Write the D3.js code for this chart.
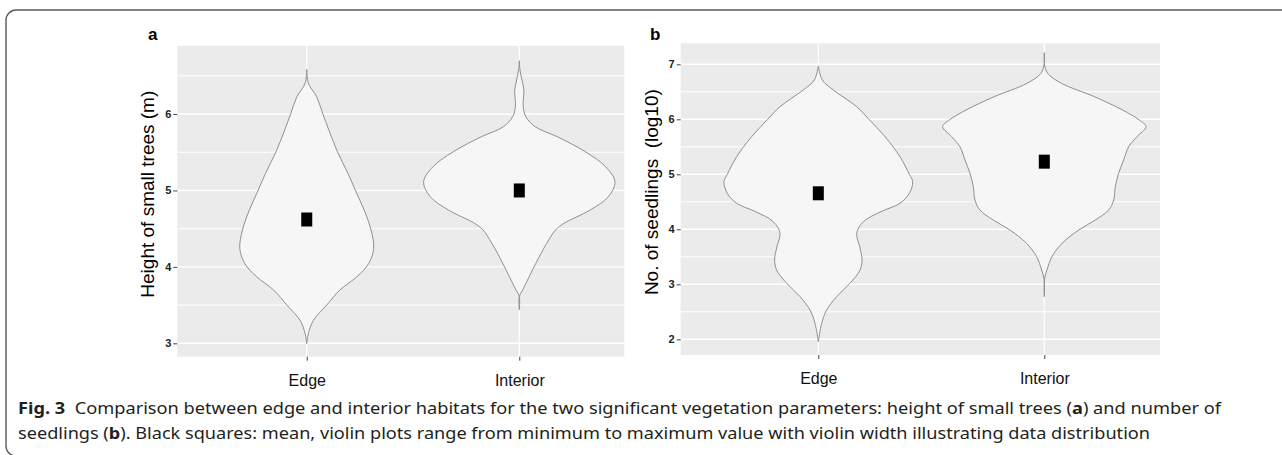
<!DOCTYPE html>
<html>
<head>
<meta charset="utf-8">
<script src="https://cdn.jsdelivr.net/npm/d3@7"></script>
<style>
  body { margin: 0; background: #fff; }
</style>
</head>
<body>
<script>
// values
var categories = ["Edge", "Interior"];

// panel a: height of small trees (m)
var heightTicks = [3, 4, 5, 6];
var heightMinor = [3.5, 4.5, 5.5, 6.5];
var heightMeans = [4.62, 5.0];
var heightEdgeY = [6.585, 6.402, 6.227, 6.009, 5.791, 5.507, 5.223, 5.005, 4.744, 4.482, 4.242, 4.045, 3.871, 3.696, 3.499, 3.30, 3.127, 2.996];
var heightEdgeDens = [0, 0.017, 0.103, 0.166, 0.231, 0.321, 0.431, 0.507, 0.6, 0.672, 0.7, 0.648, 0.524, 0.345, 0.207, 0.069, 0.017, 0];
var heightInteriorY = [6.698, 6.576, 6.445, 6.314, 6.096, 5.965, 5.834, 5.703, 5.507, 5.310, 5.114, 4.918, 4.744, 4.569, 4.482, 4.307, 4.045, 3.871, 3.696, 3.613, 3.438];
var heightInteriorDens = [0, 0.007, 0.028, 0.048, 0.041, 0.069, 0.166, 0.397, 0.69, 0.903, 1.0, 0.931, 0.741, 0.466, 0.379, 0.286, 0.172, 0.103, 0.034, 0, 0];

// panel b: number of seedlings (log10)
var seedTicks = [2, 3, 4, 5, 6, 7];
var seedMinor = [2.5, 3.5, 4.5, 5.5, 6.5];
var seedMeans = [4.655, 5.23];
var seedEdgeY = [6.969, 6.715, 6.533, 6.230, 6.0, 5.684, 5.321, 5.0, 4.866, 4.654, 4.473, 4.321, 4.139, 3.927, 3.684, 3.442, 3.260, 3.018, 2.776, 2.533, 2.291, 1.958];
var seedEdgeDens = [0, 0.039, 0.148, 0.377, 0.498, 0.656, 0.803, 0.895, 0.928, 0.895, 0.803, 0.616, 0.443, 0.377, 0.407, 0.430, 0.410, 0.311, 0.180, 0.082, 0.033, 0];
var seedInteriorY = [7.212, 7.018, 6.836, 6.654, 6.412, 6.169, 5.987, 5.866, 5.684, 5.502, 5.260, 5.018, 4.775, 4.533, 4.351, 4.169, 3.987, 3.745, 3.502, 3.260, 3.078, 2.775];
var seedInteriorDens = [0, 0, 0.033, 0.170, 0.492, 0.770, 0.934, 1.0, 0.911, 0.830, 0.780, 0.731, 0.698, 0.682, 0.633, 0.502, 0.338, 0.174, 0.075, 0.026, 0, 0];

var W = 1282, H = 455;
var svg = d3.select("body").append("svg")
  .attr("width", W)
  .attr("height", H);

// figure frame (rounded box, right and bottom run off the page)
svg.append("rect")
  .attr("x", 6).attr("y", 10)
  .attr("width", W + 20).attr("height", H - 9)
  .attr("rx", 10)
  .attr("fill", "none")
  .attr("stroke", "#5a5a5a")
  .attr("stroke-width", 1.4);

var narrow = "'Liberation Sans Narrow', 'Arial Narrow', 'Liberation Sans', Arial, sans-serif";

function zip(ys, ds) {
  return ys.map(function (v, i) { return {v: v, d: ds[i]}; });
}

function drawPanel(p) {
  var x = d3.scaleLinear().domain(p.xDomain).range([p.left, p.right]);
  var y = d3.scaleLinear().domain(p.yDomain).range([p.bottom, p.top]);
  var g = svg.append("g");

  // grey panel
  g.append("rect")
    .attr("x", p.left).attr("y", p.top)
    .attr("width", p.right - p.left).attr("height", p.bottom - p.top)
    .attr("fill", "#ebebeb");

  // grid lines
  g.selectAll("line.minor").data(p.minor).enter().append("line")
    .attr("x1", p.left).attr("x2", p.right)
    .attr("y1", function (d) { return y(d); })
    .attr("y2", function (d) { return y(d); })
    .attr("stroke", "#fff").attr("stroke-width", 1);
  g.selectAll("line.major").data(p.ticks).enter().append("line")
    .attr("x1", p.left).attr("x2", p.right)
    .attr("y1", function (d) { return y(d); })
    .attr("y2", function (d) { return y(d); })
    .attr("stroke", "#fff").attr("stroke-width", 1.4);
  g.selectAll("line.vert").data(categories).enter().append("line")
    .attr("x1", function (d, i) { return x(i + 1); })
    .attr("x2", function (d, i) { return x(i + 1); })
    .attr("y1", p.top).attr("y2", p.bottom)
    .attr("stroke", "#fff").attr("stroke-width", 1.2);

  // violins
  p.profiles.forEach(function (prof, i) {
    var area = d3.area()
      .y(function (d) { return y(d.v); })
      .x0(function (d) { return x(i + 1 - 0.45 * d.d); })
      .x1(function (d) { return x(i + 1 + 0.45 * d.d); })
      .curve(d3.curveCatmullRom);
    g.append("path")
      .datum(prof)
      .attr("d", area)
      .attr("fill", "#f6f6f6")
      .attr("stroke", "#8f8f8f")
      .attr("stroke-width", 1);
  });

  // mean squares
  g.selectAll("rect.mean").data(p.means).enter().append("rect")
    .attr("x", function (d, i) { return x(i + 1) - 5.5; })
    .attr("y", function (d) { return y(d) - 7; })
    .attr("width", 11).attr("height", 14)
    .attr("fill", "#000");

  // y axis
  var ya = g.append("g")
    .attr("transform", "translate(" + p.left + ",0)")
    .call(d3.axisLeft(y).tickValues(p.ticks).tickSize(4).tickPadding(2).tickFormat(d3.format("d")));
  ya.select(".domain").remove();
  ya.selectAll(".tick line").attr("stroke", "#444");
  ya.selectAll(".tick text")
    .attr("font-family", narrow)
    .attr("font-weight", "bold")
    .attr("font-size", 11)
    .attr("fill", "#222");

  // x axis
  var xa = g.append("g")
    .attr("transform", "translate(0," + p.bottom + ")")
    .call(d3.axisBottom(x).tickValues([1, 2]).tickSize(4).tickPadding(14)
      .tickFormat(function (d) { return categories[d - 1]; }));
  xa.select(".domain").remove();
  xa.selectAll(".tick line").attr("stroke", "#444");
  xa.selectAll(".tick text")
    .attr("font-family", narrow)
    .attr("font-size", 16)
    .attr("fill", "#111");

  // y title
  g.append("text")
    .attr("transform", "translate(" + p.titleX + "," + ((p.top + p.bottom) / 2 - 7) + ") rotate(-90)")
    .attr("text-anchor", "middle")
    .attr("dy", "0.35em")
    .attr("font-family", "'Liberation Sans', Arial, sans-serif")
    .attr("font-size", 19)
    .attr("fill", "#000")
    .attr("xml:space", "preserve")
    .text(p.title);

  // panel letter
  g.append("text")
    .attr("x", p.letterX).attr("y", 40)
    .attr("font-family", "'Liberation Sans', Arial, sans-serif")
    .attr("font-weight", "bold")
    .attr("font-size", 17)
    .attr("fill", "#000")
    .text(p.letter);
}

drawPanel({
  letter: "a", letterX: 148,
  title: "Height of small trees (m)", titleX: 147,
  left: 177.3, right: 624.3, top: 45.7, bottom: 356.7,
  xDomain: [0.391, 2.494], yDomain: [2.825, 6.894],
  ticks: heightTicks, minor: heightMinor, means: heightMeans,
  profiles: [zip(heightEdgeY, heightEdgeDens), zip(heightInteriorY, heightInteriorDens)]
});

drawPanel({
  letter: "b", letterX: 650,
  title: "No. of seedlings  (log10)", titleX: 651,
  left: 680.7, right: 1160, top: 43.3, bottom: 355,
  xDomain: [0.391, 2.512], yDomain: [1.715, 7.382],
  ticks: seedTicks, minor: seedMinor, means: seedMeans,
  profiles: [zip(seedEdgeY, seedEdgeDens), zip(seedInteriorY, seedInteriorDens)]
});

// caption
var capFont = "'Noto Sans', 'Open Sans', sans-serif";
var cap1 = svg.append("text")
  .attr("x", 18).attr("y", 414)
  .attr("font-family", capFont)
  .attr("font-size", 16.5)
  .attr("fill", "#231f20")
  .attr("textLength", 1203)
  .attr("lengthAdjust", "spacingAndGlyphs")
  .attr("xml:space", "preserve");
cap1.append("tspan").attr("font-weight", "bold").text("Fig. 3");
cap1.append("tspan").text("  Comparison between edge and interior habitats for the two significant vegetation parameters: height of small trees (");
cap1.append("tspan").attr("font-weight", "bold").text("a");
cap1.append("tspan").text(") and number of");

var cap2 = svg.append("text")
  .attr("x", 18).attr("y", 439)
  .attr("font-family", capFont)
  .attr("font-size", 16.5)
  .attr("fill", "#231f20")
  .attr("textLength", 1132)
  .attr("lengthAdjust", "spacingAndGlyphs");
cap2.append("tspan").text("seedlings (");
cap2.append("tspan").attr("font-weight", "bold").text("b");
cap2.append("tspan").text("). Black squares: mean, violin plots range from minimum to maximum value with violin width illustrating data distribution");
</script>
</body>
</html>
